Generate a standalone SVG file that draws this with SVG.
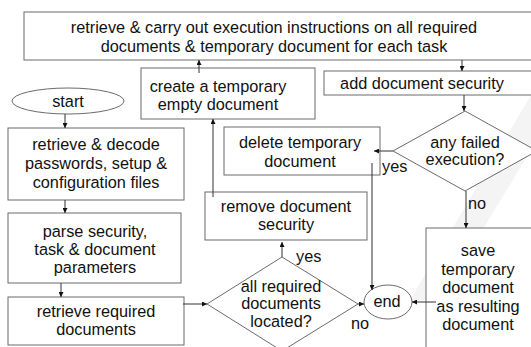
<svg xmlns="http://www.w3.org/2000/svg" width="531" height="347" viewBox="0 0 531 347">
  <style>
    .box { fill: #ffffff; stroke: #6b6b6b; stroke-width: 1; }
    .lbl { font-family: "Liberation Sans", Arial, sans-serif; font-size: 16.3px; fill: #111111; text-anchor: middle; }
    .tag { font-family: "Liberation Sans", Arial, sans-serif; font-size: 16.3px; fill: #111111; }
    .wire { fill: none; stroke: #333333; stroke-width: 1; marker-end: url(#head); }
  </style>
  <defs>
    <marker id="head" viewBox="0 0 10 10" refX="10" refY="5" markerWidth="5" markerHeight="5" orient="auto" markerUnits="userSpaceOnUse">
      <path d="M0,0 L10,5 L0,10 z" fill="#111111"/>
    </marker>
  </defs>

  <rect width="531" height="347" fill="#ffffff"/>
  <!-- faint background stripes -->
  <g fill="#f4f4f4">
    <polygon points="531,95 531,150 440,300 410,300"/>
    <polygon points="531,230 531,290 500,347 440,347"/>
  </g>

  <g id="node-execute">
    <rect class="box" x="24" y="12" width="515" height="48"/>
    <text class="lbl" x="274" y="33">retrieve &amp; carry out execution instructions on all required</text>
    <text class="lbl" x="274" y="52">documents &amp; temporary document for each task</text>
  </g>
  <g id="node-create-temp">
    <rect class="box" x="141" y="68" width="174" height="51"/>
    <text class="lbl" x="218" y="92">create a temporary</text>
    <text class="lbl" x="218" y="110">empty document</text>
  </g>
  <g id="node-add-security">
    <rect class="box" x="324" y="71" width="215" height="24"/>
    <text class="lbl" x="422" y="89">add document security</text>
  </g>
  <g id="node-start">
    <ellipse class="box" cx="68" cy="101" rx="56" ry="13"/>
    <text class="lbl" x="68" y="107">start</text>
  </g>
  <g id="node-decode">
    <rect class="box" x="8" y="128" width="176" height="72"/>
    <text class="lbl" x="96" y="150">retrieve &amp; decode</text>
    <text class="lbl" x="96" y="169">passwords, setup &amp;</text>
    <text class="lbl" x="96" y="188">configuration files</text>
  </g>
  <g id="node-parse">
    <rect class="box" x="8" y="213" width="173" height="70"/>
    <text class="lbl" x="95" y="237">parse security,</text>
    <text class="lbl" x="95" y="255">task &amp; document</text>
    <text class="lbl" x="95" y="273">parameters</text>
  </g>
  <g id="node-retrieve">
    <rect class="box" x="8" y="297" width="176" height="48"/>
    <text class="lbl" x="96" y="317">retrieve required</text>
    <text class="lbl" x="96" y="335">documents</text>
  </g>
  <g id="node-delete-temp">
    <rect class="box" x="224" y="127" width="156" height="48"/>
    <text class="lbl" x="300" y="148">delete temporary</text>
    <text class="lbl" x="300" y="167">document</text>
  </g>
  <g id="node-failed">
    <polygon class="box" points="393,151 465,111 537,151 465,191"/>
    <text class="lbl" x="465" y="148">any failed</text>
    <text class="lbl" x="465" y="165">execution?</text>
  </g>
  <g id="node-remove-security">
    <rect class="box" x="205" y="192" width="162" height="48"/>
    <text class="lbl" x="286" y="212">remove document</text>
    <text class="lbl" x="286" y="230">security</text>
  </g>
  <g id="node-located">
    <polygon class="box" points="207,304 282,257 358,304 282,351"/>
    <text class="lbl" x="281" y="292">all required</text>
    <text class="lbl" x="281" y="309">documents</text>
    <text class="lbl" x="281" y="327">located?</text>
  </g>
  <g id="node-save">
    <rect class="box" x="426" y="228" width="115" height="125"/>
    <text class="lbl" x="478" y="256">save</text>
    <text class="lbl" x="478" y="275">temporary</text>
    <text class="lbl" x="478" y="293">document</text>
    <text class="lbl" x="478" y="312">as resulting</text>
    <text class="lbl" x="478" y="330">document</text>
  </g>
  <g id="node-end">
    <ellipse class="box" cx="388" cy="302" rx="24" ry="17"/>
    <text class="lbl" x="387" y="307">end</text>
  </g>

  <g id="connectors">
    <path class="wire" d="M65,114 V128"/>
    <path class="wire" d="M65,200 V213"/>
    <path class="wire" d="M61,283 V297"/>
    <path class="wire" d="M183,304 H207"/>
    <path class="wire" d="M282,257 V242"/>
    <path class="wire" d="M213,197 V119"/>
    <path class="wire" d="M199,73 V60"/>
    <path class="wire" d="M462,60 V71"/>
    <path class="wire" d="M464,95 V111"/>
    <path class="wire" d="M393,151 H374"/>
    <path class="wire" d="M372,163 V290"/>
    <path class="wire" d="M466,191 V228"/>
    <path class="wire" d="M436,302 H412"/>
    <path class="wire" d="M358,304 H364"/>
  </g>

  <g id="labels">
    <text class="tag" x="382" y="172">yes</text>
    <text class="tag" x="468" y="209">no</text>
    <text class="tag" x="296" y="262">yes</text>
    <text class="tag" x="351" y="329">no</text>
  </g>
</svg>
